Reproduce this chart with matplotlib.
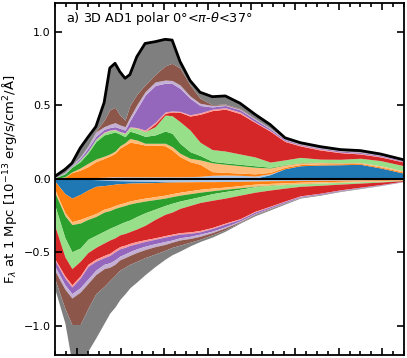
import matplotlib
matplotlib.use("Agg")
import matplotlib.pyplot as plt
import numpy as np

# wavelength grid (Angstrom)
wave = [2500, 2720, 2880, 3070, 3250, 3430, 3620, 3750, 3870, 3980, 4100, 4210,
        4370, 4560, 4790, 5020, 5180, 5360, 5590, 5820, 6100, 6400, 6740, 7080,
        7430, 7770, 8120, 8580, 9040, 9500, 9960, 10500]

# emission side: cumulative top edge of each component (10^-13 erg/s/cm2/A)
blue_pos = [0, 0, 0, 0, 0, 0, 0, 0, 0, 0, 0, 0, 0, 0, 0, 0, 0, 0, 0, 0, 0, 0, 0,
            .005, .030, .070, .090, .095, .097, .100, .075, .039]
lblue_pos = [0, 0, .003, .005, .007, .010, .012, .014, .015, .015, .015, .015, .015, .015,
             .015, .015, .015, .015, .016, .018, .025, .027, .025, .020, .035, .070, .090,
             .095, .097, .100, .075, .039]
orange_pos = [.003, .012, .043, .060, .084, .118, .140, .156, .175, .210, .231, .250, .243,
              .231, .231, .226, .197, .152, .118, .100, .050, .045, .040, .035, .045, .080,
              .098, .103, .104, .106, .082, .046]
lorange_pos = [.004, .015, .048, .075, .107, .136, .155, .170, .190, .225, .247, .275, .265,
               .243, .243, .243, .220, .175, .141, .130, .110, .100, .090, .080, .075, .095,
               .110, .112, .110, .112, .090, .055]
green_pos = [.008, .035, .080, .118, .177, .254, .300, .310, .320, .306, .288, .325, .311,
             .290, .300, .326, .311, .243, .186, .160, .120, .110, .100, .090, .080, .098,
             .112, .113, .111, .113, .090, .055]
lgreen_pos = [.009, .040, .085, .130, .190, .270, .315, .330, .335, .320, .310, .350, .345,
              .322, .356, .435, .430, .390, .333, .250, .200, .190, .170, .150, .115, .130,
              .147, .135, .134, .141, .125, .090]
red_pos = [.009, .040, .085, .130, .190, .270, .315, .330, .335, .320, .310, .350, .345,
           .322, .375, .447, .456, .454, .428, .440, .465, .475, .445, .385, .325, .255,
           .225, .197, .179, .170, .150, .115]
pink_pos = [.009, .040, .085, .130, .190, .272, .320, .333, .338, .323, .313, .355, .350,
            .333, .385, .456, .463, .460, .437, .450, .475, .485, .455, .390, .330, .260,
            .230, .203, .183, .174, .154, .118]
purple_pos = [.010, .043, .090, .140, .210, .290, .338, .350, .356, .345, .333, .395, .475,
              .570, .636, .651, .650, .617, .549, .500, .490, .500, .470, .405, .340, .268,
              .235, .208, .190, .180, .160, .123]
lpurple_pos = [.011, .046, .095, .150, .225, .320, .356, .372, .383, .368, .356, .420, .505,
               .594, .660, .673, .670, .640, .565, .515, .500, .505, .475, .410, .345, .272,
               .238, .211, .192, .183, .163, .125]
brown_pos = [.011, .046, .095, .150, .225, .325, .400, .470, .488, .435, .400, .500, .576,
             .640, .710, .770, .787, .755, .640, .550, .505, .510, .480, .412, .347, .273,
             .240, .212, .193, .184, .163, .125]
total_pos = [.020, .065, .107, .210, .285, .356, .520, .755, .787, .730, .685, .710, .832,
             .922, .934, .950, .945, .800, .670, .590, .560, .565, .515, .440, .370, .280,
             .247, .220, .200, .193, .170, .130]

# absorption side: cumulative depth below zero of each component
lblue_neg = [0, 0, 0, 0, .002, .005, .008, .010, .011, .012, .013, .014, .015, .016, .017,
             .018, .018, .018, .018, .018, .018, .017, .016, .014, .012, .011, .010, .009,
             .008, .007, .006, .004]
blue_neg = [.020, .100, .130, .105, .075, .050, .045, .040, .035, .032, .030, .028, .027,
            .026, .024, .022, .021, .020, .019, .018, .018, .017, .016, .014, .012, .011,
            .010, .009, .008, .007, .006, .004]
orange_neg = [.080, .230, .290, .275, .255, .235, .205, .195, .180, .170, .160, .150, .140,
              .130, .120, .110, .100, .090, .080, .070, .062, .055, .045, .035, .030, .026,
              .022, .019, .016, .013, .011, .007]
lorange_neg = [.100, .250, .310, .300, .275, .255, .225, .215, .200, .190, .180, .170, .160,
               .150, .140, .130, .120, .110, .100, .090, .080, .070, .060, .050, .043, .037,
               .032, .028, .023, .019, .015, .009]
green_neg = [.190, .400, .495, .470, .410, .383, .355, .335, .320, .305, .290, .279, .255,
             .230, .205, .180, .165, .150, .135, .120, .100, .085, .070, .053, .045, .038,
             .033, .028, .023, .019, .015, .009]
lgreen_neg = [.330, .530, .610, .560, .500, .465, .435, .415, .400, .380, .370, .358, .340,
              .315, .275, .240, .225, .200, .180, .160, .145, .130, .110, .090, .075, .062,
              .050, .043, .035, .028, .021, .011]
red_neg = [.550, .660, .720, .660, .580, .545, .520, .505, .480, .460, .450, .438, .425,
           .413, .400, .385, .375, .365, .360, .350, .330, .300, .270, .220, .185, .150,
           .115, .097, .074, .056, .038, .015]
pink_neg = [.560, .675, .735, .675, .595, .560, .535, .520, .495, .475, .465, .452, .440,
            .425, .410, .395, .385, .375, .370, .360, .337, .307, .275, .225, .189, .153,
            .118, .099, .076, .057, .039, .015]
purple_neg = [.600, .720, .780, .740, .680, .620, .580, .570, .550, .525, .510, .494, .475,
              .457, .440, .425, .415, .400, .390, .375, .355, .325, .285, .235, .197, .160,
              .123, .104, .080, .060, .042, .016]
lpurple_neg = [.630, .750, .810, .770, .710, .650, .610, .600, .580, .550, .535, .520, .500,
               .480, .460, .445, .430, .415, .405, .390, .365, .333, .290, .238, .200, .162,
               .125, .105, .081, .061, .043, .017]
brown_neg = [.690, .880, .990, .990, .880, .780, .730, .690, .655, .620, .600, .580, .560,
             .535, .510, .485, .465, .450, .430, .410, .380, .345, .295, .242, .203, .164,
             .126, .106, .082, .062, .043, .017]
total_neg = [.760, .980, 1.25, 1.25, 1.17, 1.08, .980, .912, .870, .820, .780, .740, .700,
             .650, .595, .545, .515, .490, .455, .425, .395, .355, .300, .250, .210, .170,
             .130, .110, .085, .065, .045, .018]

colors = ['#1f77b4', '#aec7e8', '#ff7f0e', '#ffbb78', '#2ca02c', '#98df8a',
          '#d62728', '#ff9896', '#9467bd', '#c5b0d5', '#8c564b', '#7f7f7f']
pos_layers = [blue_pos, lblue_pos, orange_pos, lorange_pos, green_pos, lgreen_pos,
              red_pos, pink_pos, purple_pos, lpurple_pos, brown_pos, total_pos]
neg_layers = [lblue_neg, blue_neg, orange_neg, lorange_neg, green_neg, lgreen_neg,
              red_neg, pink_neg, purple_neg, lpurple_neg, brown_neg, total_neg]
neg_colors = [colors[1], colors[0]] + colors[2:]

fig = plt.figure(figsize=(4.07, 3.58), dpi=100)
ax = fig.add_axes([0.1359, 0.0073, 0.8568, 0.9855])

x = np.array(wave)
prev = np.zeros(len(wave))
for edge, c in zip(pos_layers, colors):
    ax.fill_between(x, prev, edge, color=c, lw=0)
    prev = np.array(edge)
prev = np.zeros(len(wave))
for edge, c in zip(neg_layers, neg_colors):
    ax.fill_between(x, -prev, -np.array(edge), color=c, lw=0)
    prev = np.array(edge)

ax.plot(x, total_pos, color='k', lw=2)
ax.axhline(0, color='k', lw=1.5)

ax.set_xlim(2500, 10500)
ax.set_ylim(-1.2, 1.2)
ax.set_xticks(np.arange(3000, 10001, 1000))
ax.set_xticks(np.arange(2500, 10501, 250), minor=True)
ax.set_yticks([-1.0, -0.5, 0.0, 0.5, 1.0])
ax.tick_params(which='both', direction='in', top=True, right=True, labelbottom=False,
               labelsize=8, width=1.2)
ax.tick_params(which='major', length=5)
ax.tick_params(which='minor', length=3)
for s in ax.spines.values():
    s.set_linewidth(1.3)

ax.set_ylabel(r'F$_\lambda$ at 1 Mpc [10$^{-13}$ erg/s/cm$^2$/Å]', fontsize=9.5)
ax.yaxis.set_label_coords(-0.105, 0.5)
ax.text(0.03, 0.955, r'a) 3D AD1 polar 0°<$\pi$-$\theta$<37°', transform=ax.transAxes,
        fontsize=9.3, va='center', ha='left')

fig.savefig('out.png', dpi=100)
